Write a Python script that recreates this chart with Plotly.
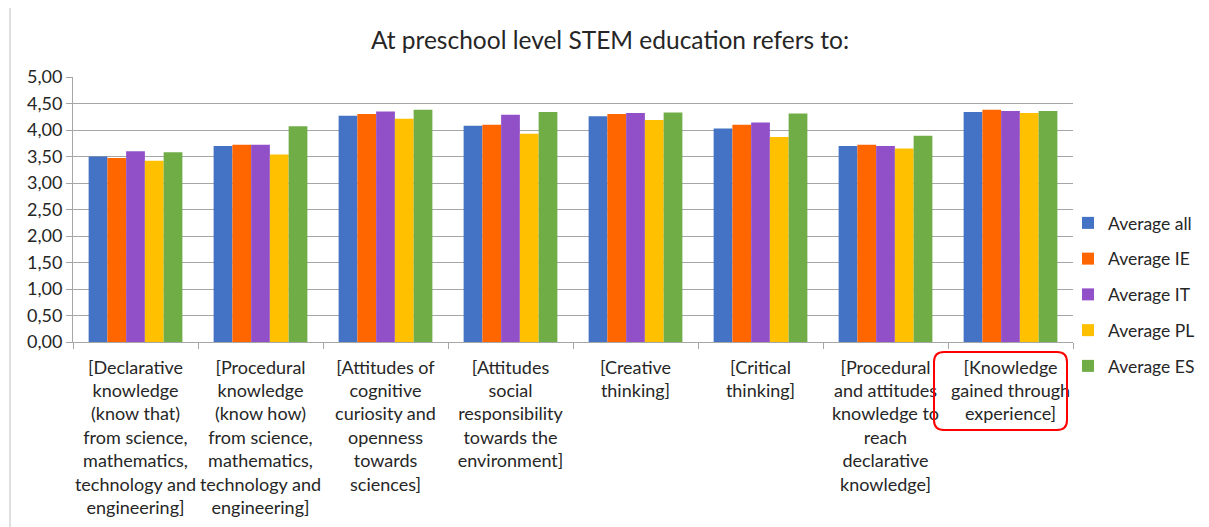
import plotly.graph_objects as go

categories = [
    "[Declarative<br>knowledge<br>(know that)<br>from science,<br>mathematics,<br>technology and<br>engineering]",
    "[Procedural<br>knowledge<br>(know how)<br>from science,<br>mathematics,<br>technology and<br>engineering]",
    "[Attitudes of<br>cognitive<br>curiosity and<br>openness<br>towards<br>sciences]",
    "[Attitudes<br>social<br>responsibility<br>towards the<br>environment]",
    "[Creative<br>thinking]",
    "[Critical<br>thinking]",
    "[Procedural<br>and attitudes<br>knowledge to<br>reach<br>declarative<br>knowledge]",
    "[Knowledge<br>gained through<br>experience]",
]
series_names = ["Average all", "Average IE", "Average IT", "Average PL", "Average ES"]
avg_all = [3.50, 3.70, 4.27, 4.08, 4.26, 4.03, 3.70, 4.34]
avg_ie  = [3.47, 3.72, 4.30, 4.10, 4.30, 4.10, 3.72, 4.38]
avg_it  = [3.60, 3.72, 4.35, 4.29, 4.32, 4.14, 3.70, 4.36]
avg_pl  = [3.42, 3.54, 4.21, 3.93, 4.19, 3.87, 3.65, 4.32]
avg_es  = [3.58, 4.07, 4.38, 4.34, 4.33, 4.31, 3.89, 4.36]
colors = ["#4472C4", "#FF6600", "#9150C8", "#FFC000", "#70AD47"]

OFF = 8  # page body margin
W, H = 1209 - OFF, 527 - OFF
# plot area in reference-page pixels
L, R, T, B = 73, 1073, 77, 342

fig = go.Figure()
for i, (name, vals) in enumerate(zip(series_names, [avg_all, avg_ie, avg_it, avg_pl, avg_es])):
    fig.add_trace(go.Bar(x=categories, y=vals, name=name, marker_color=colors[i],
                         marker_line_width=0, legendgroup=name))

def px2paper(x, y):
    return (x - L) / (R - L), (B - y) / (B - T)

# rounded highlight box around last label
x0, y0, x1, y1, r = 934, 352, 1067, 430, 10
def pt(x, y):
    a, b = px2paper(x, y)
    return f"{a:.5f},{b:.5f}"
path = (f"M {pt(x0+r,y0)} L {pt(x1-r,y0)} Q {pt(x1,y0)} {pt(x1,y0+r)} "
        f"L {pt(x1,y1-r)} Q {pt(x1,y1)} {pt(x1-r,y1)} L {pt(x0+r,y1)} "
        f"Q {pt(x0,y1)} {pt(x0,y1-r)} L {pt(x0,y0+r)} Q {pt(x0,y0)} {pt(x0+r,y0)} Z")
bx0, by0 = px2paper(10, 540)
bx1, by1 = px2paper(1205, -5)

fig.update_layout(
    width=W, height=H,
    margin=dict(l=L - OFF, r=W - (R - OFF), t=T - OFF, b=H - (B - OFF), pad=0, autoexpand=False),
    paper_bgcolor="white", plot_bgcolor="white",
    font=dict(family="Lato, Carlito, Calibri, sans-serif", size=18, color="#262626"),
    title=dict(text="At preschool level STEM education refers to:", x=(610 - OFF) / W,
               xanchor="center", xref="container",
               y=1 - (40 - OFF) / H, yanchor="middle", font=dict(size=24.5, color="#262626")),
    barmode="group", bargap=0.25, bargroupgap=0,
    separators=", ",
    showlegend=True,
    legend=dict(x=(1068 - L) / (R - L), xanchor="left", y=(B - 205) / (B - T), yanchor="top",
                traceorder="grouped", tracegroupgap=10, font=dict(size=17.5, color="#262626"),
                bgcolor="rgba(0,0,0,0)"),
    xaxis=dict(showline=True, linecolor="#a6a6a6", linewidth=1, ticks="outside",
               tickson="boundaries", ticklen=6, tickcolor="#a6a6a6", automargin=False,
               tickangle=0, ticklabelstandoff=9,
               tickfont=dict(size=18, color="#262626"), showgrid=False, fixedrange=True),
    yaxis=dict(range=[0, 5], dtick=0.5, tickformat=".2f", showgrid=True, gridcolor="#a6a6a6",
               gridwidth=1, showline=True, linecolor="#a6a6a6", ticks="outside", ticklen=6,
               tickcolor="#a6a6a6", tickfont=dict(size=18, color="#262626"), zeroline=False,
               automargin=False, fixedrange=True),
    shapes=[
        dict(type="path", path=path, xref="paper", yref="paper",
             line=dict(color="#FF0000", width=2), fillcolor="rgba(0,0,0,0)", layer="above"),
        dict(type="rect", xref="paper", yref="paper", x0=bx0, y0=by0, x1=bx1, y1=by1,
             line=dict(color="#bfbfbf", width=1), fillcolor="rgba(0,0,0,0)", layer="below"),
    ],
)

fig.write_html("out.html")
